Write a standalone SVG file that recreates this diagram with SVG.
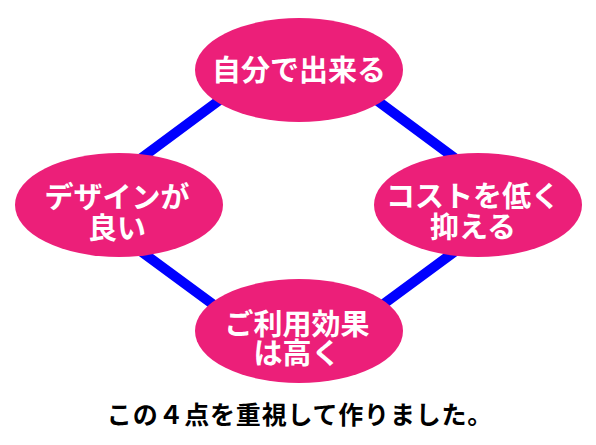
<svg xmlns="http://www.w3.org/2000/svg" width="596" height="445" viewBox="0 0 596 445">
<style>
.n{fill:#EC1F79}
.t{fill:#fff;font-family:"Noto Sans CJK JP",sans-serif;font-weight:700;font-size:29px;text-anchor:middle}
.c{fill:#000;font-family:"Noto Sans CJK JP",sans-serif;font-weight:700;font-size:25px;letter-spacing:0.8px;text-anchor:middle}
.e{stroke:#0000FF;stroke-width:10;fill:none}
</style>
<rect width="596" height="445" fill="#fff"/>
<g id="connectors">
<polygon class="e" points="78,205 298,42 518,205 298,367"/>
</g>
<g id="node-top">
<ellipse class="n" cx="299" cy="70" rx="104" ry="52"/>
<text class="t" x="299" y="81">自分で出来る</text>
</g>
<g id="node-left">
<ellipse class="n" cx="119" cy="205" rx="104" ry="52"/>
<text class="t" x="117" y="208">デザインが</text>
<text class="t" x="117" y="239">良い</text>
</g>
<g id="node-right">
<ellipse class="n" cx="478" cy="205" rx="104" ry="52"/>
<text class="t" x="473" y="207">コストを低く</text>
<text class="t" x="473" y="238">抑える</text>
</g>
<g id="node-bottom">
<ellipse class="n" cx="299" cy="331" rx="104" ry="52"/>
<text class="t" x="297" y="335">ご利用効果</text>
<text class="t" x="297" y="364">は高く</text>
</g>
<text class="c" x="300" y="424">この４点を重視して作りました。</text>
</svg>
